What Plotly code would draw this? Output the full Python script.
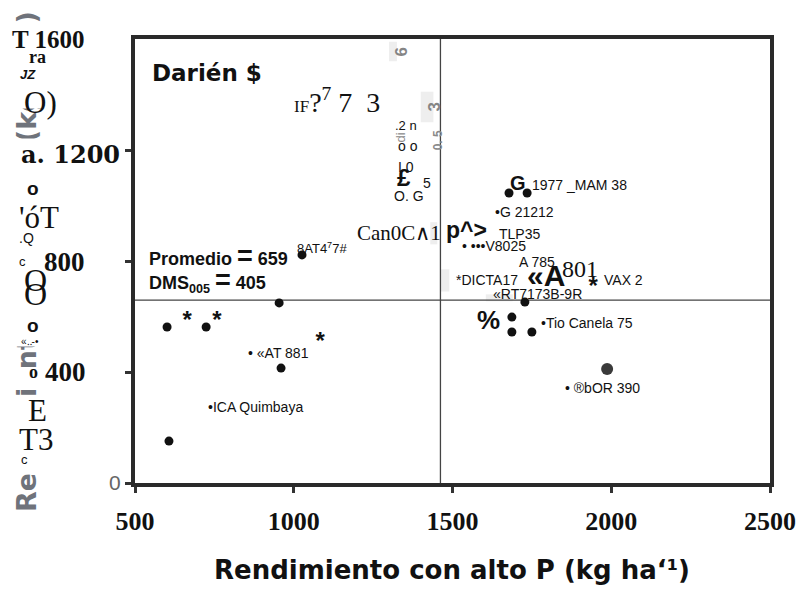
import plotly.graph_objects as go

# ---- data -----------------------------------------------------------------
# genotypes: yield with high P (x) vs yield with low P (y), kg/ha
dot_x = [1026, 954, 601, 724, 960, 607, 1678, 1735, 1728, 1687, 1687, 1750]
dot_y = [822, 649, 562, 562, 414, 151, 1045, 1045, 652, 598, 544, 544]
big_x = [1987]
big_y = [411]
star_x = [664, 758, 1083, 1943]
star_y = [580, 580, 504, 703]

mean_low_p = 659      # Promedio
mean_high_p = 1462    # vertical reference line
dms = 405

x_ticks = [500, 1000, 1500, 2000, 2500]
y_ticks = [0, 400, 800, 1200]
y_ticktext = ["0", "", "", ""]

SANS = "Liberation Sans, Arial, sans-serif"
WIDE = "DejaVu Sans, sans-serif"
SERIF = "Liberation Serif, Times New Roman, serif"
WSERIF = "DejaVu Serif, serif"

fig = go.Figure()

# faint grey smudges on the page
smudges = [(1400, 1440, 1300, 1410), (1430, 1452, 860, 940),
           (1462, 1490, 690, 770), (1605, 1690, 655, 680), (1300, 1325, 1520, 1590)]
for x0, x1, y0, y1 in smudges:
    fig.add_shape(type="rect", x0=x0, x1=x1, y0=y0, y1=y1, layer="below",
                  fillcolor="#e2e2e2", opacity=0.6, line=dict(width=0))

fig.add_trace(go.Scatter(x=dot_x, y=dot_y, mode="markers",
                         marker=dict(size=9, color="#111111"),
                         hoverinfo="skip", showlegend=False))
fig.add_trace(go.Scatter(x=big_x, y=big_y, mode="markers",
                         marker=dict(size=12, color="#3a3a3a"),
                         hoverinfo="skip", showlegend=False))
fig.add_trace(go.Scatter(x=star_x, y=star_y, mode="text", text=["*"] * len(star_x),
                         textfont=dict(family=SANS, size=24, color="#111111", weight="bold"),
                         textposition="middle center",
                         hoverinfo="skip", showlegend=False))

# mean lines
fig.add_shape(type="line", x0=500, x1=2500, y0=mean_low_p, y1=mean_low_p,
              line=dict(color="#444444", width=1.3), layer="below")
fig.add_shape(type="line", x0=mean_high_p, x1=mean_high_p, y0=0, y1=1600,
              line=dict(color="#444444", width=1.3), layer="below")

ann = []


def lab(x, y, text, size=14, family=SANS, bold=False, color="#111111",
        xref="x", yref="y", angle=0, bg=None, xanchor="left"):
    d = dict(x=x, y=y, xref=xref, yref=yref, text=text, showarrow=False,
             xanchor=xanchor, yanchor="middle", textangle=angle,
             font=dict(family=family, size=size, color=color,
                       weight="bold" if bold else "normal"))
    if bg:
        d["bgcolor"] = bg
    ann.append(d)


def mask(y_top, h):
    # white patch over the worn-out part of the vertical title
    ann.append(dict(x=-0.192, y=y_top, xref="paper", yref="paper", text="\u00a0",
                    showarrow=False, xanchor="left", yanchor="top",
                    width=40, height=h, bgcolor="white", borderpad=0))


# axis titles
lab(0.499, -0.196, "Rendimiento con alto P (kg ha‘¹)", size=26, family=WIDE, bold=True,
    xref="paper", yref="paper", xanchor="center")
lab(-0.170, 0.498, "Rendimiento con bajo P (kg ha‘¹)", size=27, family=WIDE, bold=True,
    color="#6f737b", xref="paper", yref="paper", angle=-90, xanchor="center")

# worn areas of the vertical title
mask(1.027, 80)     # y 26 .. 106 px
mask(0.770, 204)    # y 141 .. 345 px
mask(0.259, 18)     # y 368 .. 386 px
mask(0.191, 75)     # y 398 .. 473 px

# glyphs along the left side
W = "white"
P = dict(xref="paper", yref="paper", bg=W)
Q = dict(xref="paper", yref="paper")
lab(-0.197, 0.998, "T 1600", 25, SERIF, True, **P)
lab(-0.170, 0.959, "ra", 18, SERIF, True, **Q)
lab(-0.184, 0.919, "<i>JZ</i>", 13, SANS, True, **Q)
lab(-0.178, 0.858, "O)", 31, SERIF, False, **Q)
lab(-0.183, 0.739, "a. 1200", 24, WSERIF, True, **P)
lab(-0.173, 0.664, "o", 19, SANS, True, **P)
lab(-0.186, 0.599, "'óT", 31, SERIF, False, **P)
lab(-0.186, 0.552, ".Q", 14, SANS, False, **P)
lab(-0.186, 0.498, "c", 13, SANS, False, **P)
lab(-0.147, 0.498, "800", 27, SERIF, True, **P)
lab(-0.178, 0.457, "O", 32, SERIF, False, **Q)
lab(-0.178, 0.426, "O", 32, SERIF, False, **Q)
lab(-0.173, 0.354, "o", 19, SANS, True, **Q)
lab(-0.183, 0.318, "«‥-•", 10, SANS, False, **Q)
lab(-0.170, 0.250, "o", 18, SERIF, True, **Q)
lab(-0.145, 0.250, "400", 27, SERIF, True, **P)
lab(-0.172, 0.164, "E", 31, SERIF, False, **Q)
lab(-0.186, 0.097, "T3", 31, SERIF, False, **Q)
lab(-0.183, 0.052, "c", 13, SANS, False, **Q)

# text inside the plot
lab(547, 1478, "Darién $", 23, WIDE, True)
lab(995, 1380, "<span style='font-size:17px'>IF</span>?<sup>7</sup> 7\u00a0\u00a03", 28, SERIF)
lab(1303, 1553, "6", 17, SANS, True, color="#858585", angle=-90)
lab(1410, 1355, "3", 17, SANS, True, color="#858585", angle=-90)
lab(1427, 1236, "0. 5", 12, SANS, True, color="#8a8a8a", angle=-90)
lab(1305, 1245, "di", 13, SANS, False, color="#8a8a8a", angle=-90)
lab(1313, 1290, ".2 n", 13)
lab(1322, 1215, "o o", 14)
lab(1322, 1139, "I 0", 14)
lab(1318, 1100, "£", 24, SANS, True)
lab(1400, 1081, "5", 14)
lab(1310, 1034, "O. G", 14)
lab(1004, 847, "8AT4<sup>7</sup>7#", 13)
lab(1193, 901, "Can0C∧1", 21, SERIF)
lab(1473, 912, "p^>", 23, SANS, True)
lab(1675, 1081, "G", 20, SANS, True)
lab(1744, 1074, "1977 _MAM 38", 14)
lab(1628, 977, "•G 21212", 14)
lab(1640, 897, "TLP35", 14)
lab(1524, 854, "• •••V8025", 14)
lab(1703, 796, "A 785", 14)
lab(1505, 732, "*DICTA17", 14)
lab(1729, 746, "«A", 30, SANS, True)
lab(1839, 771, "801", 24, SERIF)
lab(1971, 732, "VAX 2", 14)
lab(1621, 681, "«RT7173B-9R", 14)
lab(1571, 587, "%", 26, SANS, True)
lab(1773, 577, "•Tio Canela 75", 14)
lab(1848, 342, "• ®bOR 390", 14)
lab(850, 469, "• «AT 881", 14)
lab(724, 274, "•ICA Quimbaya", 14)
lab(538, 818, "Promedio <span style='font-size:27px'>=</span> " + str(mean_low_p), 18, SANS, True)
lab(538, 728, "DMS<sub>005</sub> <span style='font-size:27px'>=</span> " + str(dms), 18, SANS, True)

fig.update_layout(
    width=796, height=590,
    margin=dict(l=135, r=26, t=39, b=107, autoexpand=False),
    paper_bgcolor="white", plot_bgcolor="white",
    annotations=ann,
    showlegend=False,
    xaxis=dict(range=[500, 2500], tickvals=x_ticks, ticks="outside", ticklen=6,
               tickwidth=3, tickcolor="#333333", showgrid=False, zeroline=False,
               showline=True, mirror=True, linewidth=4, linecolor="#2a2a2a",
               ticklabelstandoff=6, automargin=False, ticklabeloverflow="allow",
               tickfont=dict(family=SERIF, size=26, color="#111111", weight="bold")),
    yaxis=dict(range=[0, 1600], tickvals=y_ticks, ticktext=y_ticktext,
               ticks="outside", ticklen=6, tickwidth=3, tickcolor="#333333",
               showgrid=False, zeroline=False, showline=True, mirror=True,
               linewidth=4, linecolor="#2a2a2a", automargin=False,
               tickfont=dict(family=SANS, size=21, color="#666666")),
)

fig.write_html("out.html")
